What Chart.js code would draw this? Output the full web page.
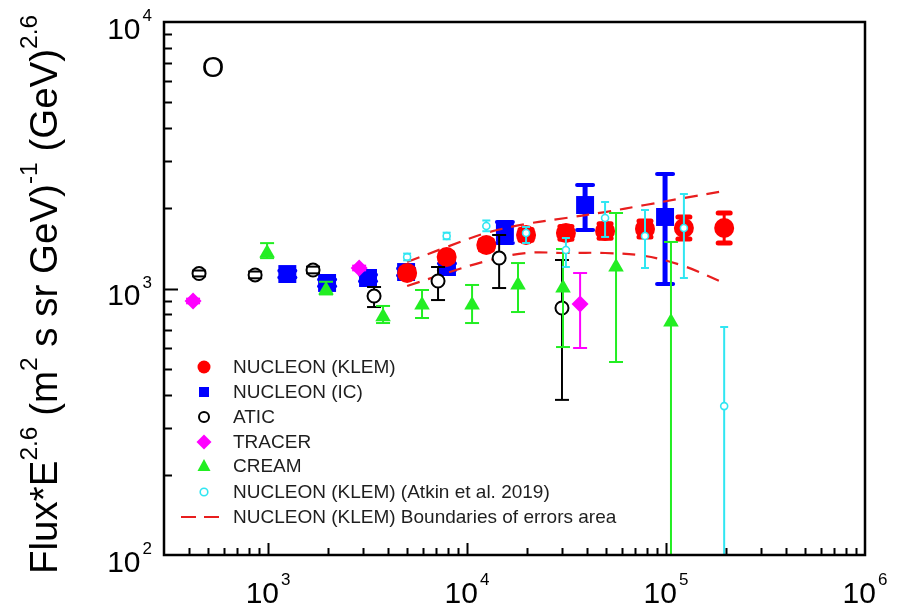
<!DOCTYPE html>
<html lang="en">
<head>
<meta charset="UTF-8">
<title>Oxygen flux</title>
<script src="https://cdn.jsdelivr.net/npm/chart.js"></script>
<style>
  body { margin: 0; background: #fff; }
  canvas { display: block; }
</style>
</head>
<body>
<canvas id="fluxChart" width="899" height="611"></canvas>
<script>
// energies in GeV, flux*E^2.6 values, lower / upper ends of error bars

// NUCLEON (KLEM)
const klemE    = [5000, 7900, 12500, 19800, 31400, 49400, 78400, 123000, 196000];
const klemFlux = [1143, 1313, 1456, 1588, 1616, 1644, 1673, 1687, 1687];
const klemLo   = [1100, 1262, 1395, 1516, 1530, 1545, 1561, 1534, 1482];
const klemHi   = [1188, 1366, 1520, 1665, 1707, 1750, 1793, 1855, 1920];
// boundaries of the KLEM error area
const klemUpper = [1257, 1431, 1616, 1746, 1839, 1936, 2057, 2186, 2322];
const klemLower = [1022, 1143, 1268, 1359, 1359, 1359, 1324, 1214, 1049];

// NUCLEON (IC)
const icE    = [1250, 1980, 3180, 4940, 7930, 15500, 39200, 98900];
const icFlux = [1133, 1049, 1095, 1153, 1204, 1629, 2057, 1855];
const icLo   = [1100, 1020, 1065, 1120, 1170, 1482, 1658, 1040];
const icHi   = [1167, 1080, 1127, 1188, 1240, 1777, 2445, 2689];

// ATIC
const aticE    = [450, 861, 1683, 3410, 7150, 14500, 30000];
const aticFlux = [1138, 1124, 1173, 937, 1067, 1301, 845];
const aticLo   = [1110, 1092, 1140, 852, 905, 1004, 382];
const aticHi   = [1168, 1158, 1208, 1013, 1204, 1588, 1279];

// TRACER
const tracerE    = [420, 2870, 37000];
const tracerFlux = [898, 1194, 875];
const tracerLo   = [880, 1170, 598];
const tracerHi   = [916, 1218, 1143];

// CREAM
const creamE    = [989, 1956, 3784, 5941, 10600, 18040, 30370, 56080, 105900];
const creamFlux = [1360, 987, 783, 867, 867, 1031, 1005, 1204, 749];
const creamLo   = [1300, 950, 742, 775, 742, 816, 603, 530, 50];
const creamHi   = [1480, 1060, 860, 987, 1031, 1246, 1407, 1920, 1495];

// NUCLEON (KLEM), Atkin et al. 2019
const atkinE    = [5000, 7900, 12500, 19800, 31400, 49400, 78400, 123000, 196000];
const atkinFlux = [1313, 1574, 1716, 1616, 1395, 1839, 1574, 1687, 362];
const atkinLo   = [1275, 1530, 1640, 1482, 1204, 1561, 1194, 1095, 50];
const atkinHi   = [1352, 1620, 1800, 1701, 1547, 2111, 1970, 2262, 717];

// axis decades
const xDecades = [3, 4, 5, 6];
const yDecades = [2, 3, 4];

const RED = '#ff0000', BLUE = '#0000ff', BLACK = '#000000', MAGENTA = '#ff00ff',
      GREEN = '#22ee22', CYAN = '#30e6f2', DASH_RED = '#e81e1e';
const FONT = '"Liberation Sans", Arial, sans-serif';

const pts = (xs, ys) => xs.map((v, i) => ({ x: v, y: ys[i] }));

// vertical bars go under the markers, caps on top of them
const errorBars = {
  id: 'errorBars',
  beforeDatasetDraw(chart, args) {
    const ds = chart.data.datasets[args.index];
    if (!ds.errLo) return;
    const { ctx, chartArea: a, scales: { x, y } } = chart;
    ctx.save();
    ctx.beginPath();
    ctx.rect(a.left, a.top, a.right - a.left, a.bottom - a.top);
    ctx.clip();
    ctx.strokeStyle = ds.errColor;
    ctx.lineWidth = ds.errWidth;
    ds.data.forEach((p, i) => {
      const px = x.getPixelForValue(p.x);
      ctx.beginPath();
      ctx.moveTo(px, y.getPixelForValue(ds.errLo[i]));
      ctx.lineTo(px, y.getPixelForValue(ds.errHi[i]));
      ctx.stroke();
    });
    ctx.restore();
  },
  afterDatasetDraw(chart, args) {
    const ds = chart.data.datasets[args.index];
    if (!ds.errLo) return;
    const { ctx, chartArea: a, scales: { x, y } } = chart;
    ctx.save();
    ctx.beginPath();
    ctx.rect(a.left, a.top, a.right - a.left, a.bottom - a.top);
    ctx.clip();
    ctx.strokeStyle = ds.errColor;
    ctx.lineWidth = ds.capWidth;
    ctx.lineCap = ds.capRound ? 'round' : 'butt';
    ds.data.forEach((p, i) => {
      const px = x.getPixelForValue(p.x);
      [ds.errLo[i], ds.errHi[i]].forEach(v => {
        const py = y.getPixelForValue(v);
        ctx.beginPath();
        ctx.moveTo(px - ds.capHalf, py);
        ctx.lineTo(px + ds.capHalf, py);
        ctx.stroke();
      });
    });
    ctx.restore();
  }
};

// text with superscripts, runs = [[text, isSup], ...]
function drawRuns(ctx, runs, x, y, size, supSize, rise) {
  let cx = x;
  runs.forEach(([t, sup]) => {
    ctx.font = (sup ? supSize : size) + 'px ' + FONT;
    ctx.fillText(t, cx, sup ? y - rise : y);
    cx += ctx.measureText(t).width;
  });
  return cx - x;
}
function runsWidth(ctx, runs, size, supSize) {
  let w = 0;
  runs.forEach(([t, sup]) => {
    ctx.font = (sup ? supSize : size) + 'px ' + FONT;
    w += ctx.measureText(t).width;
  });
  return w;
}

const frame = {
  id: 'frame',
  afterDraw(chart) {
    const { ctx, chartArea: a, scales: { x, y } } = chart;
    ctx.save();
    ctx.strokeStyle = '#000';
    ctx.fillStyle = '#000';

    // ticks, pointing inward
    ctx.lineWidth = 2;
    ctx.beginPath();
    for (let k = 2; k <= 5; k++) {
      for (let m = 1; m <= 9; m++) {
        const v = m * Math.pow(10, k);
        if (v <= 300 || v >= 1e6) continue;
        const px = Math.round(x.getPixelForValue(v)) + 0.5;
        const len = m === 1 ? 12 : 7;
        ctx.moveTo(px, a.bottom);
        ctx.lineTo(px, a.bottom - len);
      }
    }
    for (let k = 2; k <= 3; k++) {
      for (let m = 1; m <= 9; m++) {
        const v = m * Math.pow(10, k);
        if (v <= 100) continue;
        const py = Math.round(y.getPixelForValue(v)) + 0.5;
        const len = m === 1 ? 14 : 8;
        ctx.moveTo(a.left, py);
        ctx.lineTo(a.left + len, py);
      }
    }
    ctx.stroke();

    // frame
    ctx.lineWidth = 2.5;
    ctx.strokeRect(a.left, a.top, a.right - a.left, a.bottom - a.top);

    // x tick labels
    ctx.textBaseline = 'alphabetic';
    ctx.textAlign = 'left';
    xDecades.forEach(e => {
      const runs = [['10', false], [String(e), true]];
      const w = runsWidth(ctx, runs, 30, 17) + 2;
      const px = x.getPixelForValue(Math.pow(10, e));
      ctx.font = '30px ' + FONT;
      const w10 = ctx.measureText('10').width;
      ctx.fillText('10', px - w / 2, 603);
      ctx.font = '17px ' + FONT;
      ctx.fillText(String(e), px - w / 2 + w10 + 2, 585);
    });

    // y tick labels, right aligned against the axis
    yDecades.forEach(e => {
      const py = y.getPixelForValue(Math.pow(10, e));
      ctx.font = '17px ' + FONT;
      const we = ctx.measureText(String(e)).width;
      ctx.font = '30px ' + FONT;
      const w10 = ctx.measureText('10').width;
      const right = a.left - 12;
      ctx.fillText('10', right - we - 2 - w10, py + 16.5);
      ctx.font = '17px ' + FONT;
      ctx.fillText(String(e), right - we, py - 1);
    });

    // y axis title, rotated
    const title = [['Flux*E', false], ['2.6', true], [' (m', false], ['2', true],
                   [' s sr GeV)', false], ['-1', true], [' (GeV)', false], ['2.6', true]];
    ctx.save();
    ctx.translate(57, 574);
    ctx.rotate(-Math.PI / 2);
    drawRuns(ctx, title, 0, 0, 38.5, 24.5, 20);
    ctx.restore();

    // element label
    ctx.font = '29px ' + FONT;
    ctx.textAlign = 'center';
    ctx.textBaseline = 'middle';
    ctx.fillText('O', 213, 69);

    // legend
    const rows = [367, 392, 417, 442, 466, 492, 517];
    const names = ['NUCLEON (KLEM)', 'NUCLEON (IC)', 'ATIC', 'TRACER', 'CREAM',
                   'NUCLEON (KLEM) (Atkin et al. 2019)', 'NUCLEON (KLEM) Boundaries of errors area'];
    const sx = 204;
    // red circle
    ctx.fillStyle = RED;
    ctx.beginPath(); ctx.arc(sx, rows[0], 6.5, 0, Math.PI * 2); ctx.fill();
    // blue square
    ctx.fillStyle = BLUE;
    ctx.fillRect(sx - 5, rows[1] - 5, 10, 10);
    // ATIC open circle
    ctx.strokeStyle = BLACK; ctx.lineWidth = 2;
    ctx.beginPath(); ctx.arc(sx, rows[2], 5, 0, Math.PI * 2); ctx.stroke();
    // TRACER diamond
    ctx.fillStyle = MAGENTA;
    ctx.beginPath();
    ctx.moveTo(sx, rows[3] - 7.5); ctx.lineTo(sx + 7.5, rows[3]);
    ctx.lineTo(sx, rows[3] + 7.5); ctx.lineTo(sx - 7.5, rows[3]);
    ctx.closePath(); ctx.fill();
    // CREAM triangle
    ctx.fillStyle = GREEN;
    ctx.beginPath();
    ctx.moveTo(sx, rows[4] - 7); ctx.lineTo(sx + 6.5, rows[4] + 5);
    ctx.lineTo(sx - 6.5, rows[4] + 5); ctx.closePath(); ctx.fill();
    // Atkin small circle
    ctx.strokeStyle = CYAN; ctx.lineWidth = 1.6;
    ctx.beginPath(); ctx.arc(sx, rows[5], 3.8, 0, Math.PI * 2); ctx.stroke();
    // dashed boundary
    ctx.strokeStyle = DASH_RED; ctx.lineWidth = 2;
    ctx.beginPath();
    ctx.moveTo(181, rows[6]); ctx.lineTo(196, rows[6]);
    ctx.moveTo(204, rows[6]); ctx.lineTo(219, rows[6]);
    ctx.stroke();

    ctx.fillStyle = '#1e1e1e';
    ctx.font = '19px ' + FONT;
    ctx.textAlign = 'left';
    ctx.textBaseline = 'middle';
    names.forEach((n, i) => ctx.fillText(n, 233, rows[i] + 1));

    ctx.restore();
  }
};

new Chart(document.getElementById('fluxChart'), {
  type: 'scatter',
  data: {
    datasets: [
      {
        label: 'NUCLEON (KLEM) (Atkin et al. 2019)',
        data: pts(atkinE, atkinFlux),
        pointStyle: 'circle', pointRadius: 3.5, pointBorderWidth: 1.6,
        borderColor: CYAN, backgroundColor: '#ffffff',
        errLo: atkinLo, errHi: atkinHi, errColor: CYAN, errWidth: 2, capWidth: 2, capHalf: 4,
        order: 0
      },
      {
        label: 'CREAM',
        data: pts(creamE, creamFlux),
        pointStyle: 'triangle', pointRadius: 9, pointBorderWidth: 0,
        borderColor: GREEN, backgroundColor: GREEN,
        errLo: creamLo, errHi: creamHi, errColor: GREEN, errWidth: 2, capWidth: 2, capHalf: 7,
        order: 1
      },
      {
        label: 'TRACER',
        data: pts(tracerE, tracerFlux),
        pointStyle: 'rectRot', pointRadius: 8.5, pointBorderWidth: 0,
        borderColor: MAGENTA, backgroundColor: MAGENTA,
        errLo: tracerLo, errHi: tracerHi, errColor: MAGENTA, errWidth: 2, capWidth: 2, capHalf: 7,
        order: 2
      },
      {
        label: 'ATIC',
        data: pts(aticE, aticFlux),
        pointStyle: 'circle', pointRadius: 6.5, pointBorderWidth: 2,
        borderColor: BLACK, backgroundColor: '#ffffff',
        errLo: aticLo, errHi: aticHi, errColor: BLACK, errWidth: 2, capWidth: 2, capHalf: 7,
        order: 3
      },
      {
        type: 'line',
        label: 'upper boundary',
        data: pts(klemE, klemUpper),
        borderColor: DASH_RED, borderWidth: 2.2, borderDash: [13, 9],
        pointRadius: 0, tension: 0.35, fill: false,
        order: 4
      },
      {
        type: 'line',
        label: 'lower boundary',
        data: pts(klemE, klemLower),
        borderColor: DASH_RED, borderWidth: 2.2, borderDash: [13, 9],
        pointRadius: 0, tension: 0.35, fill: false,
        order: 5
      },
      {
        label: 'NUCLEON (KLEM)',
        data: pts(klemE, klemFlux),
        pointStyle: 'circle', pointRadius: 10, pointBorderWidth: 0,
        borderColor: RED, backgroundColor: RED,
        errLo: klemLo, errHi: klemHi, errColor: RED, errWidth: 3, capWidth: 5, capHalf: 6, capRound: true,
        order: 6
      },
      {
        label: 'NUCLEON (IC)',
        data: pts(icE, icFlux),
        pointStyle: 'rect', pointRadius: 12.7, pointBorderWidth: 0,
        borderColor: BLUE, backgroundColor: BLUE,
        errLo: icLo, errHi: icHi, errColor: BLUE, errWidth: 5, capWidth: 4, capHalf: 8, capRound: true,
        order: 7
      }
    ]
  },
  options: {
    responsive: false,
    devicePixelRatio: 1,
    animation: false,
    events: [],
    layout: { padding: { left: 164, right: 34, top: 22, bottom: 56 } },
    plugins: { legend: { display: false }, tooltip: { enabled: false } },
    scales: {
      x: { type: 'logarithmic', min: 300, max: 1e6, display: false },
      y: { type: 'logarithmic', min: 100, max: 10000, display: false }
    }
  },
  plugins: [errorBars, frame]
});
</script>
</body>
</html>
